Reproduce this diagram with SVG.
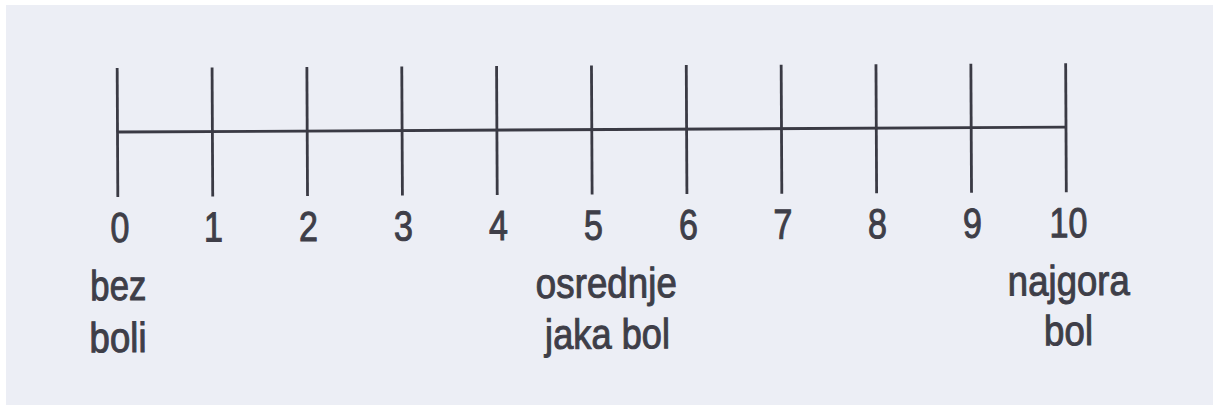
<svg xmlns="http://www.w3.org/2000/svg" width="1213" height="407" viewBox="0 0 1213 407">
  <style>
    .ln { stroke: #3a3a44; stroke-width: 2.8; fill: none; stroke-linecap: butt; }
    .num { font-family: "Liberation Sans", Arial, sans-serif; font-size: 42px; fill: #3e3e48; stroke: #3e3e48; stroke-width: 1; text-anchor: middle; }
    .lbl { font-family: "Liberation Sans", Arial, sans-serif; font-size: 42px; fill: #3e3e48; stroke: #3e3e48; stroke-width: 1; }
  </style>
  <rect x="0" y="0" width="1213" height="407" fill="#ffffff"/>
  <rect x="6" y="5" width="1207" height="400" fill="#eceef5"/>
  <g transform="rotate(-0.29 117 132)">
    <g id="connectors">
      <line class="ln" x1="117.5" y1="132" x2="1066" y2="132"/>
    </g>
    <g id="ticks">
      <line class="ln" x1="117.5" y1="68" x2="117.5" y2="197"/>
      <line class="ln" x1="212.4" y1="68" x2="212.4" y2="197"/>
      <line class="ln" x1="307.2" y1="68" x2="307.2" y2="197"/>
      <line class="ln" x1="402.1" y1="68" x2="402.1" y2="197"/>
      <line class="ln" x1="496.9" y1="68" x2="496.9" y2="197"/>
      <line class="ln" x1="591.8" y1="68" x2="591.8" y2="197"/>
      <line class="ln" x1="686.6" y1="68" x2="686.6" y2="197"/>
      <line class="ln" x1="781.5" y1="68" x2="781.5" y2="197"/>
      <line class="ln" x1="876.3" y1="68" x2="876.3" y2="197"/>
      <line class="ln" x1="971.2" y1="68" x2="971.2" y2="197"/>
      <line class="ln" x1="1066" y1="68" x2="1066" y2="197"/>
    </g>
    <g id="numbers">
      <text class="num" x="119.5" y="242" textLength="19" lengthAdjust="spacingAndGlyphs">0</text>
      <text class="num" x="213" y="242" textLength="19" lengthAdjust="spacingAndGlyphs">1</text>
      <text class="num" x="308" y="242" textLength="19" lengthAdjust="spacingAndGlyphs">2</text>
      <text class="num" x="403" y="242" textLength="19" lengthAdjust="spacingAndGlyphs">3</text>
      <text class="num" x="498" y="242" textLength="19" lengthAdjust="spacingAndGlyphs">4</text>
      <text class="num" x="593" y="242" textLength="19" lengthAdjust="spacingAndGlyphs">5</text>
      <text class="num" x="688" y="242" textLength="19" lengthAdjust="spacingAndGlyphs">6</text>
      <text class="num" x="782.5" y="242" textLength="19" lengthAdjust="spacingAndGlyphs">7</text>
      <text class="num" x="877" y="242" textLength="19" lengthAdjust="spacingAndGlyphs">8</text>
      <text class="num" x="972" y="242" textLength="19" lengthAdjust="spacingAndGlyphs">9</text>
      <text class="num" x="1068" y="242" textLength="38" lengthAdjust="spacingAndGlyphs">10</text>
    </g>
    <g id="label-bez-boli">
      <text class="lbl" x="89.5" y="300" textLength="56" lengthAdjust="spacingAndGlyphs">bez</text>
      <text class="lbl" x="88.5" y="352" textLength="57" lengthAdjust="spacingAndGlyphs">boli</text>
    </g>
    <g id="label-osrednje">
      <text class="lbl" x="535" y="300" textLength="141" lengthAdjust="spacingAndGlyphs">osrednje</text>
      <text class="lbl" x="544" y="351" textLength="125" lengthAdjust="spacingAndGlyphs">jaka bol</text>
    </g>
    <g id="label-najgora">
      <text class="lbl" x="1007" y="300" textLength="122" lengthAdjust="spacingAndGlyphs">najgora</text>
      <text class="lbl" x="1043" y="350" textLength="49" lengthAdjust="spacingAndGlyphs">bol</text>
    </g>
  </g>
</svg>
